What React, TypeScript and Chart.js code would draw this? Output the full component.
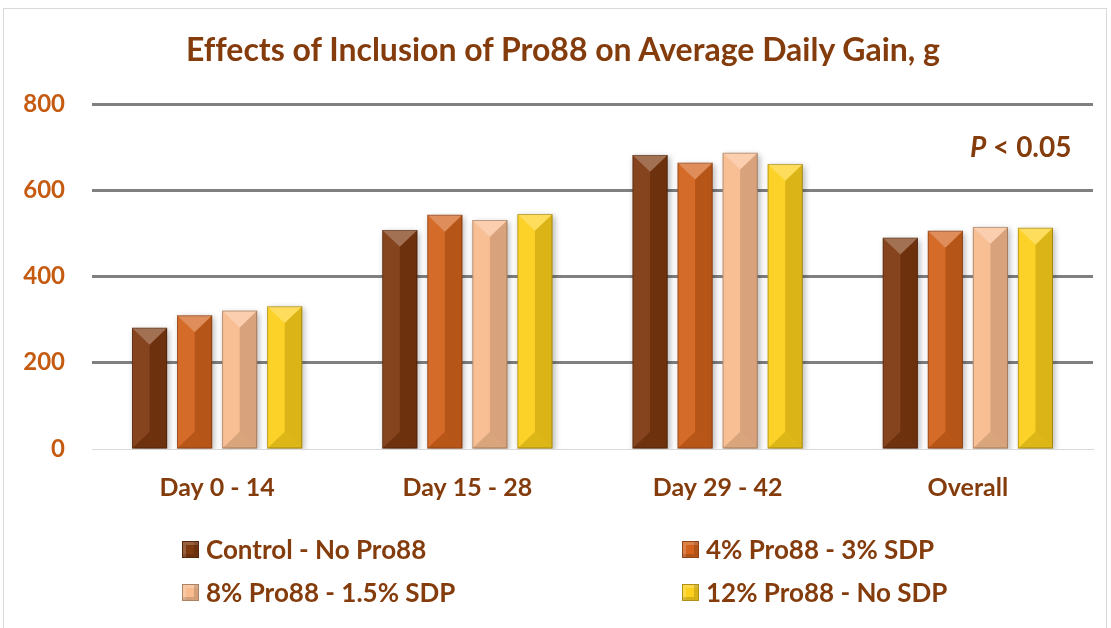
import React, { useEffect, useRef } from "react";
import { Chart, registerables } from "chart.js";

Chart.register(...registerables);

const categories = ["Day 0 - 14", "Day 15 - 28", "Day 29 - 42", "Overall"];
const seriesNames = ["Control - No Pro88", "4% Pro88 - 3% SDP", "8% Pro88 - 1.5% SDP", "12% Pro88 - No SDP"];
const controlValues = [281, 508, 682, 490];
const pro4Values = [310, 543, 664, 506];
const pro8Values = [321, 531, 687, 515];
const pro12Values = [331, 545, 661, 513];
const seriesColors = ["#7E3910", "#D2621C", "#F8BC8F", "#FCD01C"];
const yTicks = [0, 200, 400, 600, 800];

const FONT = "Lato, 'Open Sans', sans-serif";
const BROWN = "#843C0C";
const ORANGE = "#C55A11";

const bevelPlugin = {
  id: "bevel",
  beforeDatasetsDraw(chart: any) {
    const ctx = chart.ctx;
    ctx.save();
    ctx.shadowColor = "rgba(0,0,0,0.28)";
    ctx.shadowBlur = 6;
    ctx.shadowOffsetX = 2;
    ctx.shadowOffsetY = 2;
  },
  afterDatasetsDraw(chart: any) {
    const ctx = chart.ctx;
    ctx.restore();
    ctx.save();
    chart.data.datasets.forEach((_: any, di: number) => {
      const meta = chart.getDatasetMeta(di);
      meta.data.forEach((bar: any) => {
        const w = bar.width;
        const l = bar.x - w / 2;
        const r = bar.x + w / 2;
        const t = bar.y;
        const b = bar.base;
        const d = w * 0.48;
        ctx.fillStyle = "rgba(0,0,0,0.13)";
        ctx.beginPath();
        ctx.moveTo(bar.x, t + d);
        ctx.lineTo(r, t);
        ctx.lineTo(r, b);
        ctx.lineTo(bar.x, b - d);
        ctx.closePath();
        ctx.fill();
        ctx.fillStyle = "rgba(255,255,255,0.06)";
        ctx.beginPath();
        ctx.moveTo(l, t);
        ctx.lineTo(bar.x, t + d);
        ctx.lineTo(bar.x, b - d);
        ctx.lineTo(l, b);
        ctx.closePath();
        ctx.fill();
        ctx.fillStyle = "rgba(255,255,255,0.28)";
        ctx.beginPath();
        ctx.moveTo(l, t);
        ctx.lineTo(r, t);
        ctx.lineTo(bar.x, t + d);
        ctx.closePath();
        ctx.fill();
        ctx.fillStyle = "rgba(0,0,0,0.12)";
        ctx.beginPath();
        ctx.moveTo(l, b);
        ctx.lineTo(r, b);
        ctx.lineTo(bar.x, b - d);
        ctx.closePath();
        ctx.fill();
        ctx.strokeStyle = "rgba(0,0,0,0.25)";
        ctx.lineWidth = 1;
        ctx.strokeRect(l + 0.5, t + 0.5, w - 1, b - t - 1);
      });
    });
    ctx.restore();
  },
};

export default function App() {
  const ref = useRef<HTMLCanvasElement | null>(null);

  useEffect(() => {
    if (!ref.current) return;
    const allSeries = [controlValues, pro4Values, pro8Values, pro12Values];
    const chart = new Chart(ref.current, {
      type: "bar",
      data: {
        labels: categories,
        datasets: allSeries.map((vals, i) => ({
          label: seriesNames[i],
          data: vals,
          backgroundColor: seriesColors[i],
          borderWidth: 0,
          barPercentage: 0.78,
          categoryPercentage: 0.72,
        })),
      },
      options: {
        animation: false,
        responsive: false,
        maintainAspectRatio: false,
        layout: { padding: { top: 104, right: 18, left: 0, bottom: 0 } },
        plugins: {
          legend: { display: false },
          title: { display: false },
          tooltip: { enabled: false },
        },
        scales: {
          x: {
            grid: { display: false, drawTicks: false },
            border: { display: true, color: "#D9D9D9", width: 1 },
            ticks: {
              padding: 24,
              color: BROWN,
              font: { family: FONT, size: 25, weight: "bold" },
            },
            afterFit(scale: any) {
              scale.height = 179;
            },
          },
          y: {
            min: 0,
            max: 800,
            afterBuildTicks(scale: any) {
              scale.ticks = yTicks.map((v) => ({ value: v }));
            },
            grid: {
              drawTicks: false,
              color: (c: any) => (c.tick && c.tick.value === 0 ? "#D9D9D9" : "#808080"),
              lineWidth: (c: any) => (c.tick && c.tick.value === 0 ? 1 : 3),
            },
            border: { display: false },
            ticks: {
              padding: 27,
              color: ORANGE,
              font: { family: FONT, size: 24, weight: "bold" },
            },
            afterFit(scale: any) {
              scale.width = 92;
            },
          },
        },
      },
      plugins: [bevelPlugin],
    });
    return () => chart.destroy();
  }, []);

  const legendItem = (i: number, left: number, top: number) => (
    <div
      key={i}
      style={{
        position: "absolute",
        left,
        top,
        display: "flex",
        alignItems: "center",
        height: 30,
      }}
    >
      <div
        style={{
          width: 15,
          height: 15,
          background: seriesColors[i],
          boxShadow: "inset -4px -3px 0 rgba(0,0,0,0.15), inset 3px 3px 0 rgba(255,255,255,0.2)",
          border: "1px solid rgba(0,0,0,0.3)",
          marginRight: 7,
        }}
      />
      <span style={{ fontFamily: FONT, fontWeight: 700, fontSize: 26, color: BROWN, whiteSpace: "nowrap" }}>
        {seriesNames[i]}
      </span>
    </div>
  );

  return (
    <div style={{ position: "fixed", left: 0, top: 0, width: 1111, height: 628, background: "#fff", overflow: "hidden" }}>
      <div
        style={{
          position: "absolute",
          left: 3,
          top: 8,
          width: 1104,
          height: 640,
          border: "1px solid #D9D9D9",
          boxSizing: "border-box",
        }}
      />
      <canvas ref={ref} width={1111} height={628} style={{ position: "absolute", left: 0, top: 0 }} />
      <div
        style={{
          position: "absolute",
          left: 0,
          width: 1126,
          top: 29,
          textAlign: "center",
          fontFamily: FONT,
          fontWeight: 700,
          fontSize: 32,
          color: BROWN,
          whiteSpace: "nowrap",
          fontVariantLigatures: "none",
        }}
      >
        Effects of Inclusion of Pro88 on Average Daily Gain, g
      </div>
      <div
        style={{
          position: "absolute",
          left: 970,
          top: 129,
          fontFamily: FONT,
          fontWeight: 700,
          fontSize: 28,
          color: BROWN,
          whiteSpace: "nowrap",
        }}
      >
        <i>P</i> &lt; 0.05
      </div>
      {legendItem(0, 182, 534)}
      {legendItem(1, 682, 534)}
      {legendItem(2, 182, 577)}
      {legendItem(3, 682, 577)}
    </div>
  );
}
